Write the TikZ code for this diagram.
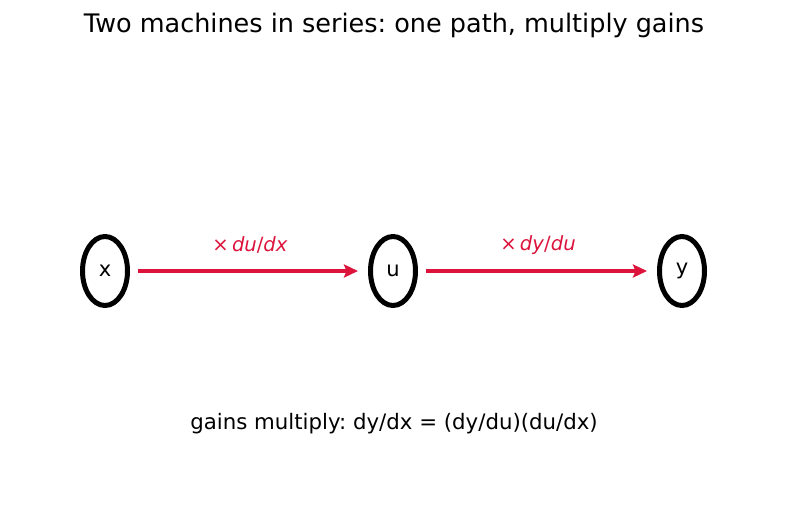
\documentclass[tikz,border=0pt]{standalone}
\usepackage{fontspec}
\setmainfont{DejaVu Sans}
\usetikzlibrary{arrows.meta,shapes.geometric}
\definecolor{crim}{RGB}{220,20,60}
\tikzset{
  var/.style={draw=black, line width=5pt, ellipse, minimum width=45pt, minimum height=69pt, inner sep=0pt, font=\fontsize{21}{24}\selectfont},
  gain/.style={draw=crim, line width=4pt, -{Stealth[length=14pt,width=13pt,inset=2.5pt]}},
  glabel/.style={text=crim, font=\fontsize{19.6}{23}\selectfont}
}
\begin{document}
\frenchspacing
\begin{tikzpicture}[x=1pt,y=-1pt]
\useasboundingbox (0,0) rectangle (787,512);
\node[font=\fontsize{25.5}{30}\selectfont] (title) at (394,25) {Two machines in series: one path, multiply gains};
\node[var] (x) at (105,271) {x};
\node[var] (u) at (393,271) {u};
\node[var] (y) at (682,271) {y};
\draw[gain] ([xshift=8pt]x.east) -- ([xshift=-10pt]u.west);
\draw[gain] ([xshift=8pt]u.east) -- ([xshift=-10pt]y.west);
\node[glabel] (l1) at (250,245) {×\,\textit{du}/\textit{dx}};
\node[glabel] (l2) at (538,245) {×\,\textit{dy}/\textit{du}};
\node[font=\fontsize{21.3}{25}\selectfont] (eq) at (394,424) {gains multiply: dy/dx = (dy/du)(du/dx)};
\end{tikzpicture}
\end{document}
